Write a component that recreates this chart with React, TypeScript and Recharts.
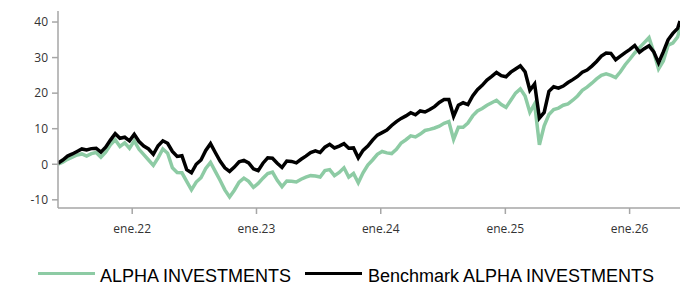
import React from "react";
import { LineChart, Line, XAxis, YAxis, Legend } from "recharts";

const dates = [
  "2021-05-28","2021-06-11","2021-06-25","2021-07-09","2021-07-23","2021-08-06","2021-08-20","2021-09-03","2021-09-17","2021-10-01","2021-10-15","2021-10-29","2021-11-12","2021-11-26","2021-12-10","2021-12-24",
  "2022-01-07","2022-01-21","2022-02-04","2022-02-18","2022-03-04","2022-03-18","2022-04-01","2022-04-15","2022-04-29","2022-05-13","2022-05-27","2022-06-10","2022-06-24","2022-07-08","2022-07-22","2022-08-05","2022-08-19","2022-09-02","2022-09-16","2022-09-30","2022-10-14","2022-10-28","2022-11-11","2022-11-25","2022-12-09","2022-12-23",
  "2023-01-06","2023-01-20","2023-02-03","2023-02-17","2023-03-03","2023-03-17","2023-03-31","2023-04-14","2023-04-28","2023-05-12","2023-05-26","2023-06-09","2023-06-23","2023-07-07","2023-07-21","2023-08-04","2023-08-18","2023-09-01","2023-09-15","2023-09-29","2023-10-13","2023-10-27","2023-11-10","2023-11-24","2023-12-08","2023-12-22",
  "2024-01-05","2024-01-19","2024-02-02","2024-02-16","2024-03-01","2024-03-15","2024-03-29","2024-04-12","2024-04-26","2024-05-10","2024-05-24","2024-06-07","2024-06-21","2024-07-05","2024-07-19","2024-08-02","2024-08-16","2024-08-30","2024-09-13","2024-09-27","2024-10-11","2024-10-25","2024-11-08","2024-11-22","2024-12-06","2024-12-20",
  "2025-01-03","2025-01-17","2025-01-31","2025-02-14","2025-02-28","2025-03-14","2025-03-28","2025-04-11","2025-04-25","2025-05-09","2025-05-23","2025-06-06","2025-06-20","2025-07-04","2025-07-18","2025-08-01","2025-08-15","2025-08-29","2025-09-12","2025-09-26","2025-10-10","2025-10-24","2025-11-07","2025-11-21","2025-12-05","2025-12-19",
  "2026-01-02","2026-01-16","2026-01-30","2026-02-13","2026-02-27","2026-03-13","2026-03-27","2026-04-10","2026-04-24","2026-05-08","2026-05-22","2026-05-29",
];

const alpha = [
  0.0, 0.6, 1.4, 2.0, 2.6, 2.9, 2.3, 3.0, 3.3, 2.0,
  3.4, 5.5, 6.9, 5.0, 6.0, 4.5, 6.6, 4.2, 2.7, 1.2,
  -0.3, 1.8, 4.3, 3.1, -1.0, -2.3, -2.4, -4.8, -7.2, -5.0,
  -3.8, -1.2, 0.5, -2.0, -4.5, -7.2, -9.2, -7.3, -5.0, -3.9,
  -4.8, -6.5, -5.4, -3.9, -2.6, -2.2, -4.5, -6.3, -4.7, -4.8,
  -5.0, -4.2, -3.6, -3.2, -3.3, -3.6, -1.8, -1.5, -3.2, -2.3,
  -1.0, -3.6, -2.6, -5.2, -2.4, -0.2, 1.2, 2.8, 3.6, 3.2,
  3.0, 4.2, 6.0, 6.9, 8.0, 7.7, 8.5, 9.5, 9.8, 10.2,
  10.7, 11.5, 12.0, 7.0, 10.4, 10.4, 11.6, 13.6, 15.0, 15.7,
  16.6, 17.3, 18.0, 16.8, 16.0, 18.0, 20.0, 21.2, 19.2, 14.6,
  17.0, 5.5, 10.8, 14.0, 15.4, 15.8, 16.6, 17.0, 18.0, 19.2,
  20.8, 21.7, 22.8, 24.0, 25.0, 25.4, 25.0, 24.4, 26.0, 28.0,
  29.6, 31.3, 32.8, 34.2, 35.6, 31.5, 26.8, 29.0, 33.5, 34.1,
  35.8, 38.3,
];

const benchmark = [
  0.3, 1.2, 2.3, 2.9, 3.6, 4.3, 4.0, 4.4, 4.5, 3.4,
  4.8, 6.8, 8.6, 7.3, 7.6, 6.6, 8.4, 6.4, 5.1, 4.3,
  2.8, 5.2, 6.6, 5.9, 3.6, 2.2, 2.4, -1.5, -2.4, 0.0,
  1.2, 3.9, 5.8, 3.3, 0.9, -1.0, -2.0, -0.8, 0.7, 1.1,
  0.4, -1.3, -1.8, 0.3, 1.8, 1.7, 0.3, -0.9, 0.9, 0.8,
  0.4, 1.4, 2.3, 3.3, 3.8, 3.3, 4.8, 5.6, 4.6, 5.1,
  5.8, 4.5, 4.6, 1.8, 3.9, 5.1, 6.8, 8.2, 8.9, 9.6,
  10.9, 12.0, 12.9, 13.6, 14.5, 13.9, 15.0, 14.7, 15.4, 16.2,
  17.4, 18.2, 18.2, 13.5, 16.6, 17.3, 16.8, 19.2, 21.0, 22.2,
  23.7, 24.7, 25.8, 24.9, 24.6, 25.9, 26.8, 27.7, 26.0, 20.8,
  22.6, 13.0, 14.6, 20.5, 21.8, 21.4, 22.0, 23.0, 23.8, 24.7,
  25.9, 26.5, 27.6, 28.9, 30.4, 31.3, 31.2, 29.4, 30.4, 31.4,
  32.3, 33.4, 31.5, 32.5, 33.3, 31.6, 28.5, 31.6, 35.0, 36.8,
  38.2, 40.3,
];

const xTickDates = ["2022-01-01", "2023-01-01", "2024-01-01", "2025-01-01", "2026-01-01"];
const xTickLabels = ["ene.22", "ene.23", "ene.24", "ene.25", "ene.26"];
const yTicks = [-10, 0, 10, 20, 30, 40];

const seriesNames = ["ALPHA INVESTMENTS", "Benchmark ALPHA INVESTMENTS"];
const GREEN = "#8dcba4";
const BLACK = "#000000";

const toTime = (d: string) => new Date(d + "T00:00:00Z").getTime();

const data = dates.map((d, i) => ({
  t: toTime(d),
  alpha: alpha[i],
  benchmark: benchmark[i],
}));

const xTicks = xTickDates.map(toTime);
const labelFor = (v: number) => {
  const idx = xTicks.indexOf(v);
  return idx >= 0 ? xTickLabels[idx] : "";
};

const renderLegend = () => (
  <div
    style={{
      position: "relative",
      width: 689,
      height: 26,
      fontFamily: '"Liberation Sans", Arial, sans-serif',
      fontSize: 18,
      color: "#000",
    }}
  >
    <div style={{ position: "absolute", left: 38, top: 11, width: 57, height: 3, background: GREEN }} />
    <span style={{ position: "absolute", left: 100, top: 5, lineHeight: "20px", whiteSpace: "nowrap" }}>
      {seriesNames[0]}
    </span>
    <div style={{ position: "absolute", left: 305, top: 11, width: 57, height: 3, background: BLACK }} />
    <span style={{ position: "absolute", left: 368, top: 5, lineHeight: "20px", whiteSpace: "nowrap" }}>
      {seriesNames[1]}
    </span>
  </div>
);

const tickStyle = { fontFamily: '"Open Sans", sans-serif', fontSize: 12, fill: "#333" };

export default function App() {
  return (
    <div style={{ position: "absolute", left: 0, top: 0, width: 689, height: 288, background: "#fff" }}>
      <LineChart
        width={689}
        height={288}
        data={data}
        margin={{ top: 11, right: 9, left: 0, bottom: 24 }}
      >
        <XAxis
          dataKey="t"
          type="number"
          scale="time"
          domain={[toTime(dates[0]), toTime(dates[dates.length - 1])]}
          ticks={xTicks}
          tickFormatter={labelFor}
          tick={tickStyle}
          tickSize={6}
          tickMargin={10}
          height={30}
          stroke="#a6a6a6"
          strokeWidth={1.5}
          allowDataOverflow
        />
        <YAxis
          type="number"
          domain={[-12.3, 43.1]}
          ticks={yTicks}
          tick={tickStyle}
          tickSize={6}
          tickMargin={4}
          width={58}
          stroke="#a6a6a6"
          strokeWidth={1.5}
          allowDataOverflow
        />
        <Legend verticalAlign="bottom" height={26} wrapperStyle={{ top: 261, left: 0, bottom: "auto", width: 689, height: 26 }} content={renderLegend} />
        <Line
          type="linear"
          dataKey="alpha"
          name={seriesNames[0]}
          stroke={GREEN}
          strokeWidth={3.5}
          dot={false}
          isAnimationActive={false}
        />
        <Line
          type="linear"
          dataKey="benchmark"
          name={seriesNames[1]}
          stroke={BLACK}
          strokeWidth={3.5}
          dot={false}
          isAnimationActive={false}
        />
      </LineChart>
    </div>
  );
}
